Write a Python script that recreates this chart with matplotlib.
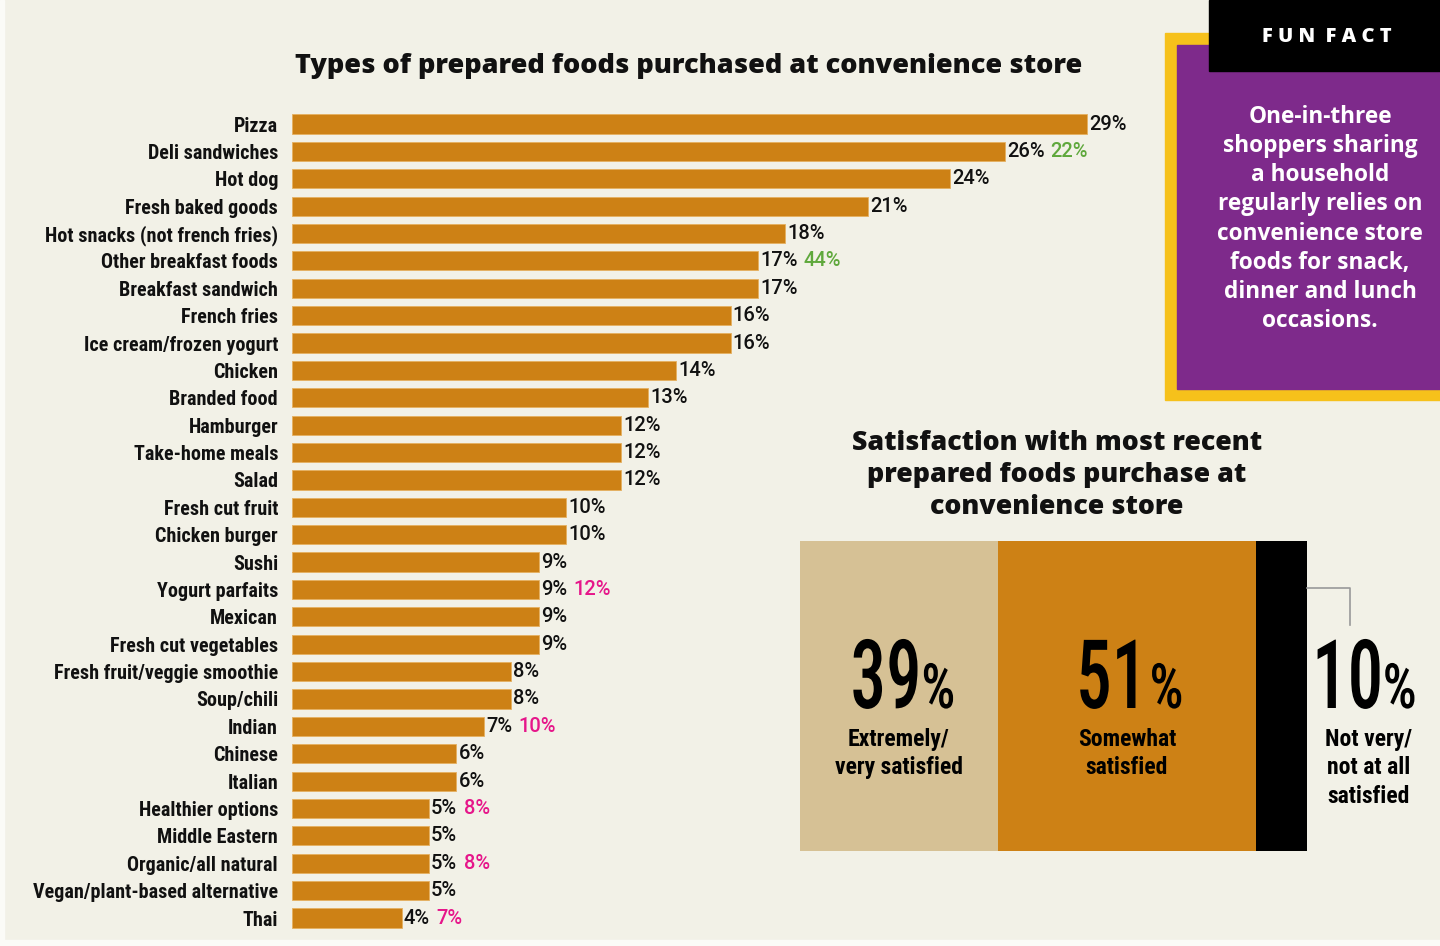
import os
import matplotlib
matplotlib.use("Agg")
import matplotlib.pyplot as plt
from matplotlib.patches import Rectangle
from matplotlib import font_manager as fm
from matplotlib.patheffects import AbstractPathEffect
from matplotlib.transforms import Affine2D

# ---------------- data ----------------
categories = ["Pizza", "Deli sandwiches", "Hot dog", "Fresh baked goods",
              "Hot snacks (not french fries)", "Other breakfast foods",
              "Breakfast sandwich", "French fries", "Ice cream/frozen yogurt",
              "Chicken", "Branded food", "Hamburger", "Take-home meals", "Salad",
              "Fresh cut fruit", "Chicken burger", "Sushi", "Yogurt parfaits",
              "Mexican", "Fresh cut vegetables", "Fresh fruit/veggie smoothie",
              "Soup/chili", "Indian", "Chinese", "Italian", "Healthier options",
              "Middle Eastern", "Organic/all natural",
              "Vegan/plant-based alternative", "Thai"]
values = [29, 26, 24, 21, 18, 17, 17, 16, 16, 14, 13, 12, 12, 12, 10, 10, 9, 9,
          9, 9, 8, 8, 7, 6, 6, 5, 5, 5, 5, 4]
extra_categories = ["Deli sandwiches", "Other breakfast foods", "Yogurt parfaits",
                    "Indian", "Healthier options", "Organic/all natural", "Thai"]
extra_values = [22, 44, 12, 10, 8, 8, 7]
extra_kinds = ["green", "green", "pink", "pink", "pink", "pink", "pink"]

sat_labels = ["Extremely/\nvery satisfied", "Somewhat\nsatisfied",
              "Not very/\nnot at all\nsatisfied"]
sat_values = [39, 51, 10]

title_main = "Types of prepared foods purchased at convenience store"
title_sat = "Satisfaction with most recent\nprepared foods purchase at\nconvenience store"
fun_fact_head = "FUN FACT"
fun_fact_text = ("One-in-three\nshoppers sharing\na household\nregularly relies on\n"
                 "convenience store\nfoods for snack,\ndinner and lunch\noccasions.")

# ---------------- fonts ----------------
def _wnum(w):
    if isinstance(w, (int, float)):
        return w
    return fm.weight_dict.get(w, 400)


def pick_font(prefixes, weight):
    ents = [f for f in fm.fontManager.ttflist if f.style == "normal"]
    for p in prefixes:
        m = [f for f in ents if os.path.basename(f.fname).lower().startswith(p)]
        if m:
            best = min(m, key=lambda f: abs(_wnum(f.weight) - weight))
            return best.fname
    return None


LABEL_PREFS = ["liberationsansnarrow", "robotocondensed", "notosans-condensed",
               "opensans_condensed", "opensanscondensed", "opensans-condensed",
               "dejavusanscondensed", "notosans-semicondensed"]


def fprop(prefs, weight, size):
    path = pick_font(prefs, weight)
    if path:
        return fm.FontProperties(fname=path, size=size)
    return fm.FontProperties(family="DejaVu Sans", stretch="condensed",
                             weight=weight, size=size)


fp_label = fprop(LABEL_PREFS, 600, 14.5)
fp_satlab = fprop(LABEL_PREFS, 700, 17)
fp_big = fprop(LABEL_PREFS, 500, 69)
fp_pct = fprop(LABEL_PREFS, 500, 45)
fp_val = fm.FontProperties(family=["Roboto", "DejaVu Sans"], weight=500, size=14.5)
HEAVY = ["Open Sans", "Lato", "DejaVu Sans"]


class Squeeze(AbstractPathEffect):
    """Draw text narrower, keeping its left or right ink edge in place."""

    def __init__(self, sx, anchor="left"):
        super().__init__()
        self.sx = sx
        self.anchor = anchor

    def draw_path(self, renderer, gc, tpath, affine, rgbFace=None):
        ext = tpath.get_extents()
        x0 = ext.x1 if self.anchor == "right" else ext.x0
        sq = Affine2D().translate(-x0, 0).scale(self.sx, 1).translate(x0, 0)
        renderer.draw_path(gc, tpath, sq + affine, rgbFace)


# ---------------- style ----------------
BG = "#F2F1E7"
ORANGE = "#CD8115"
TAN = "#D6C195"
GREEN = "#5FA83C"
PINK = "#E6168A"
PURPLE = "#7E2A8B"
YELLOW = "#F6C11B"
colors_extra = {"green": GREEN, "pink": PINK}

W, H = 1440, 946
fig = plt.figure(figsize=(W / 100, H / 100), dpi=100, facecolor=BG)


def fx(x):
    return x / W


def fy(y):
    return 1 - y / H


# light margins of the original graphic
fig.patches.append(Rectangle((0, 0), fx(4), 1, transform=fig.transFigure,
                             color="#FBFBF7", zorder=0))
fig.patches.append(Rectangle((0, 0), 1, 6 / H, transform=fig.transFigure,
                             color="#FBFBF7", zorder=0))

# ---------------- main bar chart ----------------
px_per_unit = (1087 - 292) / 29.0
row = 27.38
top_px, bot_px = 100, 940
ax = fig.add_axes([fx(292), fy(bot_px), fx(1440 - 292), (bot_px - top_px) / H])
ax.set_facecolor("none")
ax.set_xlim(0, (1440 - 292) / px_per_unit)
ax.set_ylim((bot_px - 124) / row, (top_px - 124) / row)
ypos = list(range(len(categories)))
ax.barh(ypos, values, height=0.70, color=ORANGE, edgecolor="#E5B060", linewidth=0.6)
ax.set_yticks(ypos)
ax.set_yticklabels(categories, fontproperties=fp_label, color="#111111")
ax.tick_params(axis="y", length=0, pad=10)
ax.set_xticks([])
for s in ax.spines.values():
    s.set_visible(False)

extra_map = {c: (v, k) for c, v, k in zip(extra_categories, extra_values, extra_kinds)}
for y, (c, v) in enumerate(zip(categories, values)):
    t = ax.annotate(f"{v}%", xy=(v, y), xytext=(1.5, 0), textcoords="offset points",
                    va="center", ha="left", fontproperties=fp_val, color="#111111")
    if c in extra_map:
        ev, ck = extra_map[c]
        ax.annotate(f"{ev}%", xy=(1, 0.5), xycoords=t, xytext=(4.5, 0),
                    textcoords="offset points", va="center", ha="left",
                    fontproperties=fp_val, color=colors_extra[ck])

fig.text(fx(689), fy(66), title_main, ha="center", va="center", fontsize=19.5,
         family=HEAVY, weight=800, color="#111111")

# ---------------- fun fact box ----------------
fig.patches.append(Rectangle((fx(1165), fy(400)), fx(1440 - 1165), (400 - 33) / H,
                             transform=fig.transFigure, color=YELLOW, zorder=1))
fig.patches.append(Rectangle((fx(1177), fy(389)), fx(1440 - 1177), (389 - 45) / H,
                             transform=fig.transFigure, color=PURPLE, zorder=2))
fig.patches.append(Rectangle((fx(1209), fy(71)), fx(1440 - 1209), 71 / H,
                             transform=fig.transFigure, color="black", zorder=3))
fig.text(fx(1327), fy(37), "F U N  F A C T", ha="center", va="center", fontsize=14.5,
         family=HEAVY, weight=800, color="white", zorder=4)
fig.text(fx(1320), fy(219), fun_fact_text, ha="center", va="center", fontsize=16.3,
         family=HEAVY, weight="bold", color="white", linespacing=1.29, zorder=4)

# ---------------- satisfaction chart ----------------
fig.text(fx(1057), fy(475), title_sat, ha="center", va="center", fontsize=19.3,
         family=HEAVY, weight=800, color="#111111", linespacing=1.31)

ax2 = fig.add_axes([fx(800), fy(851), fx(1307 - 800), (851 - 541) / H])
ax2.set_xlim(0, 100)
ax2.set_ylim(0, 1)
ax2.axis("off")
seg_colors = [TAN, ORANGE, "black"]
left = 0
label_x = []
for v, col in zip(sat_values, seg_colors):
    ax2.barh(0.5, v, left=left, height=1.0, color=col)
    label_x.append(left + v / 2)
    left += v
num_x = list(label_x)
num_x[2] = left + 10.5     # third group sits outside the bar
label_x[2] = left + 12.2

ax2.plot([100, 108.5, 108.5], [(851 - 588) / 310, (851 - 588) / 310, (851 - 625) / 310],
         color="#999999", lw=1.2, clip_on=False)

base_y = (851 - 708) / 310
for nx, lx, v, lab in zip(num_x, label_x, sat_values, sat_labels):
    ax2.annotate(f"{v}", xy=(nx, base_y), xytext=(17.5, 0), textcoords="offset points",
                 ha="right", va="baseline", fontproperties=fp_big, color="black",
                 annotation_clip=False, path_effects=[Squeeze(0.74, "right")])
    ax2.annotate("%", xy=(nx, base_y), xytext=(15.8, 0), textcoords="offset points",
                 ha="left", va="baseline", fontproperties=fp_pct, color="black",
                 annotation_clip=False, path_effects=[Squeeze(0.86, "left")])
    ax2.text(lx, (851 - 728) / 310, lab, ha="center", va="top", fontproperties=fp_satlab,
             color="black", linespacing=1.3, clip_on=False)

fig.savefig("out.png", dpi=100, facecolor=BG)
